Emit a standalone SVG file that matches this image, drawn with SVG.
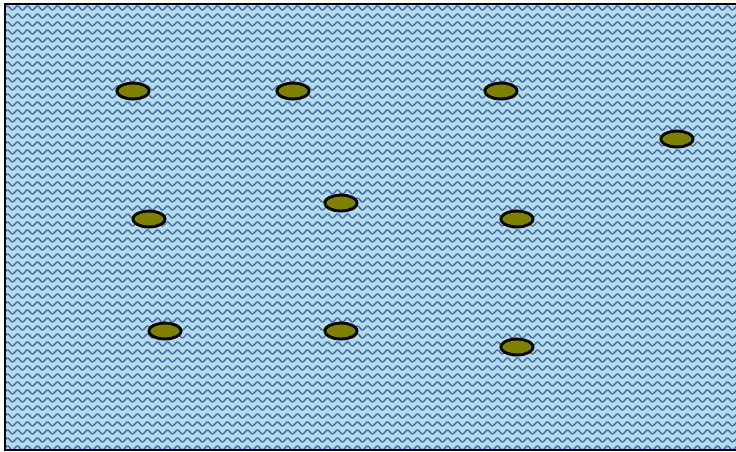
<svg xmlns="http://www.w3.org/2000/svg" width="736" height="452" viewBox="0 0 736 452">
<style>
.pond{fill:#808000;stroke:#000;stroke-width:3}
.w{fill:none;stroke:#4f5fc0;stroke-width:1.6}
</style>
<defs>
<pattern id="wave" x="5" y="4" width="10" height="8" patternUnits="userSpaceOnUse">
<rect width="10" height="8" fill="#b0e0e6"/>
<path class="w" d="M-10,4 Q-7.5,0 -5,4 T0,4 Q2.5,0 5,4 T10,4 Q12.5,0 15,4 T20,4"/>
</pattern>
</defs>
<rect x="5" y="4" width="740" height="446" fill="url(#wave)" stroke="#000" stroke-width="2"/>
<g id="holes">
<g id="n1"><ellipse class="pond" cx="133" cy="91" rx="16" ry="8"/></g>
<g id="n2"><ellipse class="pond" cx="293" cy="91" rx="16" ry="8"/></g>
<g id="n3"><ellipse class="pond" cx="501" cy="91" rx="16" ry="8"/></g>
<g id="n4"><ellipse class="pond" cx="677" cy="139" rx="16" ry="8"/></g>
<g id="n5"><ellipse class="pond" cx="149" cy="219" rx="16" ry="8"/></g>
<g id="n6"><ellipse class="pond" cx="341" cy="203" rx="16" ry="8"/></g>
<g id="n7"><ellipse class="pond" cx="517" cy="219" rx="16" ry="8"/></g>
<g id="n8"><ellipse class="pond" cx="165" cy="331" rx="16" ry="8"/></g>
<g id="n9"><ellipse class="pond" cx="341" cy="331" rx="16" ry="8"/></g>
<g id="n10"><ellipse class="pond" cx="517" cy="347" rx="16" ry="8"/></g>
</g>
<g id="connectors"></g>
</svg>
